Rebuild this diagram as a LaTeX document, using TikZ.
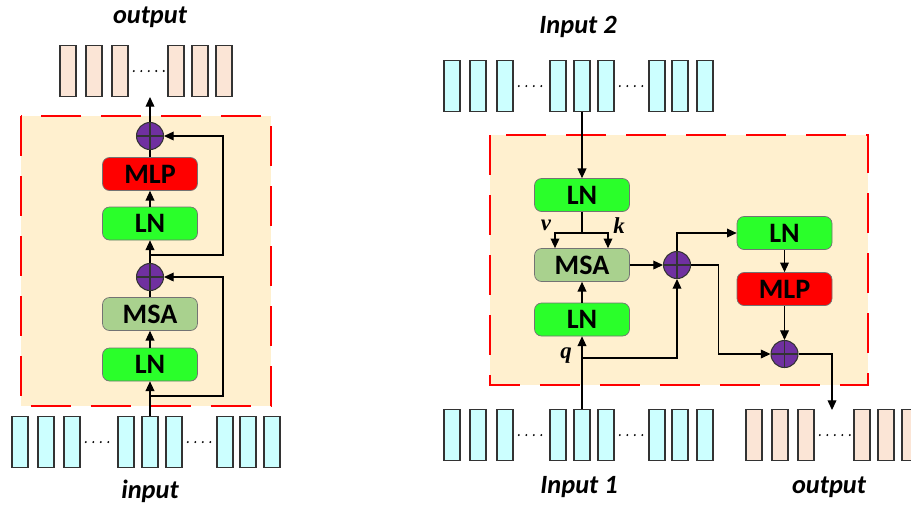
\documentclass[tikz,border=0pt]{standalone}
\usepackage{fontspec}
\setmainfont{Carlito}
\newfontfamily\qkvfont{Liberation Serif}
\usetikzlibrary{positioning, arrows.meta}
\definecolor{rojo}{HTML}{FF0000}
\definecolor{crema}{HTML}{FFF0CF}
\definecolor{verde}{HTML}{2AFF2A}
\definecolor{oliva}{HTML}{A9D18E}
\definecolor{morado}{HTML}{7030A0}
\definecolor{cian}{HTML}{CCFFFF}
\definecolor{durazno}{HTML}{FBE5D6}
\newcommand{\qkv}[1]{{\qkvfont\bfseries\itshape #1}}

\begin{document}
\begin{tikzpicture}[x=0.02cm, y=-0.02cm,
        tk/.style={draw=black!80, fill=cian, minimum width=0.32cm, minimum height=1.03cm, inner sep=0pt, line width=0.6pt},
        tko/.style={tk, fill=durazno},
        cx/.style={rounded corners=4pt, draw=black!55, minimum width=1.9cm, minimum height=0.66cm, inner sep=0pt, font=\fontsize{16}{16}\selectfont\bfseries},
        sm/.style={circle, draw=black!80, fill=morado, minimum size=0.54cm, inner sep=0pt, line width=0.6pt,
            path picture={\draw[black!80, line width=0.6pt] (path picture bounding box.north) -- (path picture bounding box.south)
                (path picture bounding box.west) -- (path picture bounding box.east);}},
        fl/.style={-{Triangle[length=5.5pt, width=5pt]}, line width=0.6pt},
        ln/.style={line width=0.6pt},
        pts/.style={line width=1.2pt, line cap=round, dash pattern=on 0pt off 0.15cm, shorten <=3pt, shorten >=2pt},
        lb/.style={font=\fontsize{15}{15}\selectfont\bfseries\itshape},
        zona/.style={draw=rojo, fill=crema, line width=1.3pt, dash pattern=on 0.8cm off 0.4cm}]
    \useasboundingbox (0,0) rectangle (911,505);
    \draw[zona] (21,116) rectangle (271,406);
    \draw[zona] (490,135) rectangle (868,385);
    \foreach \n/\x in {1/68, 2/94, 3/120, 4/176, 5/200, 6/224} \node[tko] (lo\n) at (\x,71) {};
    \foreach \n/\x in {1/20, 2/46, 3/72, 4/126, 5/150, 6/174, 7/225, 8/248, 9/272} \node[tk] (li\n) at (\x,442) {};
    \foreach \n/\x in {1/452, 2/478, 3/505, 4/558, 5/582, 6/606, 7/657, 8/680, 9/705} \node[tk] (ra\n) at (\x,86) {};
    \foreach \n/\x in {1/452, 2/478, 3/505, 4/558, 5/582, 6/606, 7/657, 8/680, 9/705} \node[tk] (rb\n) at (\x,435) {};
    \foreach \n/\x in {1/754, 2/780, 3/806, 4/862, 5/886, 6/910} \node[tko] (ro\n) at (\x,435) {};
    \foreach \p/\q in {lo3/lo4, li3/li4, li6/li7, ra3/ra4, ra6/ra7, rb3/rb4, rb6/rb7, ro3/ro4} \draw[pts] (\p.east) -- (\q.west);
    \node[lb] (tout) at (150,17) {output};
    \node[lb] (tin) at (150,491) {input};
    \node[lb] (tin2) at (578,27) {Input 2};
    \node[lb] (tin1) at (579,487) {Input 1};
    \node[lb] (tout2) at (829,487) {output};
    \node[sm] (s1) at (150,136) {};
    \node[cx, fill=rojo] (m1) at (150,174) {MLP};
    \node[cx, fill=verde] (n1) at (150,223.5) {LN};
    \node[sm] (s2) at (150,277) {};
    \node[cx, fill=oliva] (a1) at (150,314) {MSA};
    \node[cx, fill=verde] (n2) at (150,364.5) {LN};
    \coordinate (o1) at (150,97);
    \coordinate (b1) at (150,396);
    \coordinate (b2) at (150,255);
    \draw[fl] (li5) -- (n2);
    \draw[fl] (n2) -- (a1);
    \draw[ln] (a1) -- (s2);
    \draw[fl] (s2) -- (n1);
    \draw[fl] (n1) -- (m1);
    \draw[ln] (m1) -- (s1);
    \draw[fl] (s1) -- (o1);
    \draw[fl] (b1) -- ++(73,0) |- (s2);
    \draw[fl] (b2) -- ++(73,0) |- (s1);
    \node[cx, fill=verde] (n3) at (582,195) {LN};
    \node[cx, fill=oliva] (a2) at (582,265) {MSA};
    \node[cx, fill=verde] (n4) at (582,319.5) {LN};
    \node[sm] (s3) at (677,265) {};
    \node[cx, fill=verde] (n5) at (784.5,233) {LN};
    \node[cx, fill=rojo] (m2) at (784.5,289) {MLP};
    \node[sm] (s4) at (784.5,354) {};
    \node[font=\fontsize{13}{13}\selectfont] (v) at (546,225) {\qkv{v}};
    \node[font=\fontsize{13}{13}\selectfont] (k) at (619,226) {\qkv{k}};
    \node[font=\fontsize{13}{13}\selectfont] (q) at (566,356) {\qkv{q}};
    \coordinate (c1) at (582,233);
    \coordinate (c2) at (582,358);
    \coordinate (o2) at (832,410);
    \draw[fl] (ra5) -- (n3);
    \draw[ln] (n3) -- (c1);
    \draw[fl] (c1) -| ([xshift=-0.54cm]a2.north);
    \draw[fl] (c1) -| ([xshift=0.52cm]a2.north);
    \draw[fl] (rb5) -- (n4);
    \draw[fl] (n4) -- (a2);
    \draw[fl] (c2) -| (s3);
    \draw[fl] (a2) -- (s3);
    \draw[fl] (s3) |- (n5);
    \draw[fl] (n5) -- (m2);
    \draw[fl] (m2) -- (s4);
    \draw[fl] (s3.east) -- ++(27,0) |- (s4);
    \draw[fl] (s4) -| (o2);
\end{tikzpicture}
\end{document}
